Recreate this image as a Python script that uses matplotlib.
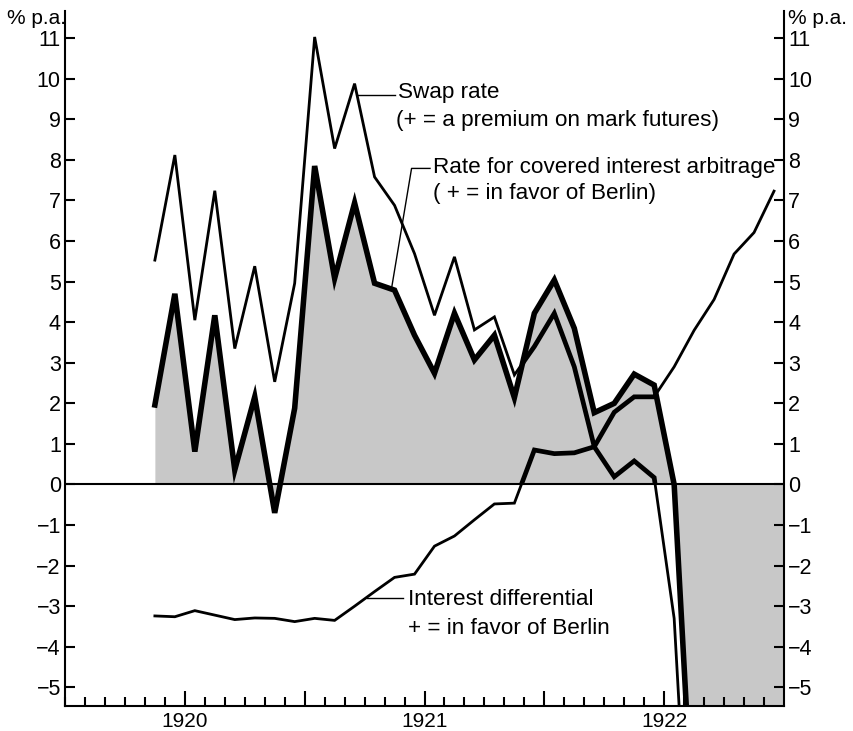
import numpy as np
import matplotlib.pyplot as plt

plt.rcParams['font.family'] = ['Liberation Sans', 'DejaVu Sans']

# monthly values, first month = November 1919, plotted at mid-month
swap_rate = [5.53, 8.12, 4.05, 7.24, 3.35, 5.38, 2.53, 4.96, 11.03, 8.28,
             9.88, 7.58, 6.88, 5.69, 4.17, 5.61, 3.81, 4.13, 2.70, 3.40,
             4.22, 2.90, 0.93, 0.19, 0.58, 0.17, -3.3, -12.0]
arbitrage = [1.96, 4.70, 0.81, 4.17, 0.36, 2.16, -0.70, 1.88, 7.85, 5.08,
             6.94, 4.96, 4.79, 3.68, 2.74, 4.22, 3.07, 3.68, 2.14, 4.22,
             5.04, 3.85, 1.77, 2.00, 2.72, 2.45, 0.0, -9.0, -10.0, -10.0,
             -10.0, -10.0, -10.0]
interest_diff = [-3.24, -3.26, -3.11, -3.22, -3.33, -3.29, -3.30, -3.38, -3.30, -3.35,
                 -3.00, -2.64, -2.29, -2.21, -1.52, -1.27, -0.87, -0.48, -0.46, 0.85,
                 0.76, 0.78, 0.93, 1.78, 2.16, 2.16, 2.90, 3.80, 4.56, 5.68,
                 6.21, 7.23]

def month_times(n):
    return 1919 + (10.5 + np.arange(n)) / 12

t_swap = month_times(len(swap_rate))
t_arb = month_times(len(arbitrage))
t_diff = month_times(len(interest_diff))

fig = plt.figure(figsize=(8.54, 7.31), dpi=100)
ax = fig.add_axes([65/854, 25/731, 719/854, 695/731])
ax.set_xlim(1919.5, 1922.5)
ax.set_ylim(-5.46, 11.67)

fill = ax.fill_between(t_arb, arbitrage, 0, color='#c8c8c8', lw=0, zorder=1)
ax.axhline(0, color='black', lw=1.5, zorder=2)

ax.plot(t_swap, swap_rate, color='black', lw=2.0, solid_joinstyle='miter', zorder=3)
ax.plot(t_diff, interest_diff, color='black', lw=2.0, solid_joinstyle='miter', zorder=3)
ax.plot(t_arb, arbitrage, color='black', lw=4.0, solid_joinstyle='miter', zorder=4)

# lines look heavier where they run through the shaded area
clip = fill.get_paths()[0]
for tt, yy in [(t_swap, swap_rate), (t_diff, interest_diff)]:
    ln, = ax.plot(tt, yy, color='black', lw=3.4, solid_joinstyle='miter', zorder=3)
    ln.set_clip_path(clip, ax.transData)

# labels with leader lines
fs = 16.2
ax.plot([1920.718, 1920.877], [9.60, 9.60], color='black', lw=1.0)
ax.text(1920.889, 9.65, 'Swap rate', fontsize=fs, va='center', ha='left')
ax.text(1920.880, 8.98, '(+ = a premium on mark futures)', fontsize=fs, va='center', ha='left')

ax.plot([1920.863, 1920.946, 1921.023], [4.85, 7.79, 7.79], color='black', lw=1.0)
ax.text(1921.035, 7.81, 'Rate for covered interest arbitrage', fontsize=fs, va='center', ha='left')
ax.text(1921.035, 7.18, '( + = in favor of Berlin)', fontsize=fs, va='center', ha='left')

ax.plot([1920.759, 1920.910], [-2.80, -2.80], color='black', lw=1.0)
ax.text(1920.931, -2.83, 'Interest differential', fontsize=fs, va='center', ha='left')
ax.text(1920.931, -3.54, '+ = in favor of Berlin', fontsize=fs, va='center', ha='left')

fig.text(7/854, 1 - 19/731, '% p.a.', fontsize=15, va='center', ha='left')
fig.text(788/854, 1 - 18/731, '% p.a.', fontsize=15, va='center', ha='left')

# axes
ax.spines['top'].set_visible(False)
for s in ['left', 'right', 'bottom']:
    ax.spines[s].set_linewidth(1.5)

ax.set_yticks(range(-5, 12))
ax.tick_params(axis='y', direction='in', length=7, width=1.5, left=True, right=True,
               labelleft=True, labelright=True, labelsize=15.5, pad=3)

ax.set_xticks([1920, 1920.5, 1921, 1921.5, 1922])
ax.set_xticklabels(['1920', '', '1921', '', '1922'])
ax.set_xticks(np.arange(1919.5, 1922.5, 1/12), minor=True)
ax.tick_params(axis='x', which='major', direction='in', length=11, width=1.5,
               labelsize=15, pad=4)
ax.tick_params(axis='x', which='minor', direction='in', length=6.5, width=1.5)

fig.savefig('out.png', dpi=100)
